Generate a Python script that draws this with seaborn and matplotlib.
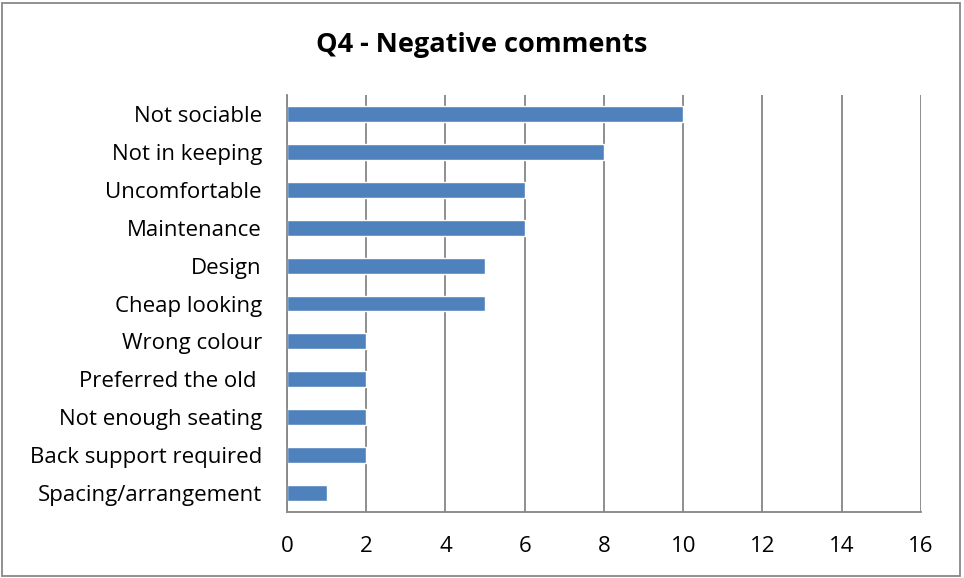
import seaborn as sns
import matplotlib.pyplot as plt
import pandas as pd
from matplotlib.patches import Rectangle

categories = ["Not sociable", "Not in keeping", "Uncomfortable", "Maintenance",
              "Design", "Cheap looking", "Wrong colour", "Preferred the old ",
              "Not enough seating", "Back support required", "Spacing/arrangement"]
counts = [10, 8, 6, 6, 5, 5, 2, 2, 2, 2, 1]
xticks = [0, 2, 4, 6, 8, 10, 12, 14, 16]

df = pd.DataFrame({"comment": categories, "count": counts})

sns.set_style("white")
plt.rcParams['font.family'] = ['Open Sans', 'DejaVu Sans']
plt.rcParams['text.color'] = 'black'
plt.rcParams['xtick.color'] = 'black'
plt.rcParams['ytick.color'] = 'black'

fig = plt.figure(figsize=(9.64, 5.78), dpi=100)
ax = fig.add_axes([0.2977, 0.1142, 0.6577, 0.7214])

sns.barplot(data=df, x="count", y="comment", color="#4F81BD", saturation=1,
            width=0.42, ax=ax)

grid_c = "#868686"
ax.set_xlim(0, 16)
ax.set_xticks(xticks)
ax.set_xticklabels([str(t) for t in xticks], fontsize=16)
ax.tick_params(axis="y", labelsize=16, length=0, pad=18, labelcolor="black")
ax.tick_params(axis="x", length=0, pad=17, labelcolor="black")
ax.xaxis.grid(True, color=grid_c, linewidth=1.3)
ax.set_axisbelow(True)
for s in ["top", "right"]:
    ax.spines[s].set_visible(False)
for s in ["left", "bottom"]:
    ax.spines[s].set_color(grid_c)
    ax.spines[s].set_linewidth(1.3)
ax.set_xlabel("")
ax.set_ylabel("")

fig.suptitle("Q4 - Negative comments", x=0.5, y=0.944, fontsize=19.5,
             fontweight="bold", color="black")

fig.patches.append(Rectangle((0.002, 0.003), 0.994, 0.992, transform=fig.transFigure,
                             fill=False, edgecolor="#888888", linewidth=1.3))

plt.savefig("out.png", dpi=100)
